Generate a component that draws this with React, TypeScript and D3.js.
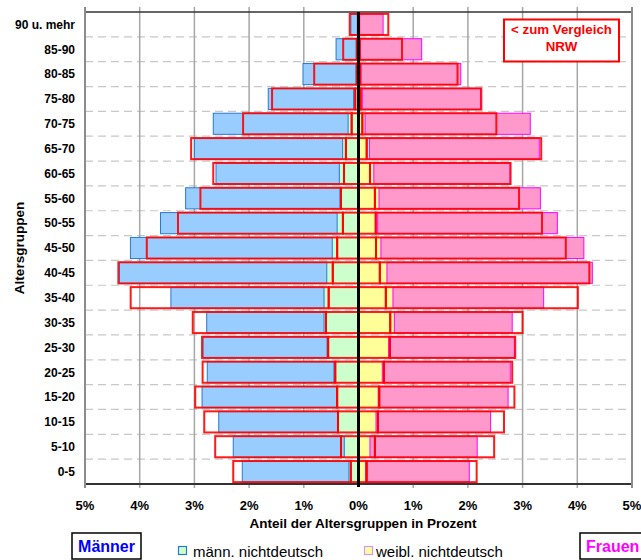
import React from "react";
import * as d3 from "d3";

// Age groups, bottom to top
const categories = ["0-5","5-10","10-15","15-20","20-25","25-30","30-35","35-40","40-45","45-50","50-55","55-60","60-65","65-70","70-75","75-80","80-85","85-90","90 u. mehr"];

// Local (percent)
const maleNonGerman   = [0.175,0.26,0.38,0.40,0.45,0.575,0.63,0.63,0.58,0.48,0.39,0.34,0.35,0.29,0.19,0.09,0.045,0.04,0.02];
const maleGerman      = [1.95,2.03,2.175,2.46,2.315,2.265,2.145,2.80,3.79,3.69,3.23,2.82,2.255,2.71,2.465,1.56,0.97,0.37,0.12];
const femaleNonGerman = [0.13,0.21,0.32,0.36,0.435,0.55,0.655,0.63,0.52,0.41,0.35,0.375,0.28,0.20,0.12,0.07,0.045,0.03,0.02];
const femaleGerman    = [1.895,1.96,2.095,2.375,2.34,2.30,2.155,2.755,3.755,3.71,3.285,2.95,2.49,3.105,3.02,2.16,1.825,1.125,0.43];

// NRW comparison (percent)
const nrwMaleNonGerman   = [0.14,0.32,0.375,0.39,0.425,0.555,0.595,0.545,0.47,0.39,0.285,0.32,0.265,0.23,0.125,0.06,0.03,0.03,0.01];
const nrwMaleGerman      = [2.15,2.30,2.445,2.595,2.425,2.305,2.435,3.62,3.92,3.48,3.015,2.57,2.39,2.83,1.985,1.52,0.78,0.25,0.15];
const nrwFemaleNonGerman = [0.15,0.30,0.355,0.38,0.465,0.575,0.58,0.50,0.39,0.32,0.315,0.30,0.21,0.15,0.07,0.04,0.03,0.02,0.01];
const nrwFemaleGerman    = [2.01,2.18,2.305,2.47,2.345,2.29,2.42,3.51,3.83,3.47,3.04,2.635,2.57,3.19,2.45,2.205,1.78,0.775,0.535];

const xTicks = [-5,-4,-3,-2,-1,0,1,2,3,4,5];

const FONT = "'Liberation Sans', Arial, Helvetica, sans-serif";

export default function App() {
  const W = 641, H = 560;
  const left = 85, right = 632, top = 12, bottom = 484;
  const x = d3.scaleLinear().domain([-5, 5]).range([left, right]);
  const topDown = categories.slice().reverse();
  const y = d3.scaleBand<string>().domain(topDown).range([top, bottom]).paddingInner(0.15).paddingOuter(0.075);
  const step = (bottom - top) / categories.length;
  const bw = y.bandwidth();
  const x0 = x(0);

  const rows = categories.map((c, i) => ({
    c,
    mn: maleNonGerman[i], md: maleGerman[i],
    fn: femaleNonGerman[i], fd: femaleGerman[i],
    nmn: nrwMaleNonGerman[i], nmd: nrwMaleGerman[i],
    nfn: nrwFemaleNonGerman[i], nfd: nrwFemaleGerman[i],
  }));

  const seg = (a: number, b: number) => {
    const xa = x(a), xb = x(b);
    return { x: Math.min(xa, xb), w: Math.abs(xb - xa) };
  };

  return (
    <svg width={W} height={H} style={{ position: "absolute", left: 0, top: 0, background: "#fff" }} fontFamily={FONT}>
      <rect x={0} y={0} width={W} height={H} fill="#fff" />
      {/* horizontal dashed gridlines */}
      {d3.range(1, categories.length).map((k) => (
        <line key={"h" + k} x1={left} x2={right} y1={top + k * step} y2={top + k * step} stroke="#c8c8c8" strokeWidth={1.2} strokeDasharray="8,5" />
      ))}
      {/* vertical gridlines */}
      {xTicks.filter((t) => t !== 0 && Math.abs(t) !== 5).map((t) => (
        <line key={"v" + t} x1={x(t)} x2={x(t)} y1={top - 5} y2={bottom + 4} stroke="#a6a6a6" strokeWidth={1.5} />
      ))}
      {/* filled bars */}
      {rows.map((r) => {
        const yy = y(r.c)!;
        const gN = seg(-r.mn, 0), gD = seg(-(r.mn + r.md), -r.mn);
        const fN = seg(0, r.fn), fD = seg(r.fn, r.fn + r.fd);
        return (
          <g key={"b" + r.c}>
            <rect x={gN.x} y={yy} width={gN.w} height={bw} fill="#ccffcc" />
            <rect x={gD.x} y={yy} width={gD.w} height={bw} fill="#99ccff" stroke="#2a78d2" strokeWidth={1} />
            <rect x={fN.x} y={yy} width={fN.w} height={bw} fill="#ffff99" />
            <rect x={fD.x} y={yy} width={fD.w} height={bw} fill="#ff99cc" stroke="#ff00ff" strokeWidth={1} />
          </g>
        );
      })}
      {/* NRW outlines */}
      {rows.map((r) => {
        const yy = y(r.c)!;
        const gN = seg(-r.nmn, 0), gD = seg(-(r.nmn + r.nmd), -r.nmn);
        const fN = seg(0, r.nfn), fD = seg(r.nfn, r.nfn + r.nfd);
        return (
          <g key={"n" + r.c} fill="none" stroke="#ff0000" strokeWidth={2} strokeOpacity={0.9}>
            <rect x={gN.x} y={yy} width={gN.w} height={bw} />
            <rect x={gD.x} y={yy} width={gD.w} height={bw} />
            <rect x={fN.x} y={yy} width={fN.w} height={bw} />
            <rect x={fD.x} y={yy} width={fD.w} height={bw} />
          </g>
        );
      })}
      {/* frame */}
      <line x1={left} x2={right} y1={top} y2={top} stroke="#333" strokeWidth={1.5} />
      <line x1={left} x2={right} y1={bottom} y2={bottom} stroke="#333" strokeWidth={2} />
      <line x1={left} x2={left} y1={top - 5} y2={bottom + 4} stroke="#8c8c8c" strokeWidth={2} />
      <line x1={right} x2={right} y1={top - 5} y2={bottom + 4} stroke="#8c8c8c" strokeWidth={2} />
      <line x1={x0} x2={x0} y1={top} y2={bottom + 3} stroke="#000" strokeWidth={3} />
      {/* x tick labels */}
      {xTicks.map((t) => (
        <text key={"t" + t} x={x(t)} y={509.5} textAnchor="middle" fontSize={13} fontWeight="bold" fill="#000">
          {Math.abs(t) + "%"}
        </text>
      ))}
      {/* category labels */}
      {categories.map((c) => (
        <text key={"c" + c} x={75} y={y(c)! + bw / 2 + 4.3} textAnchor="end" fontSize={12} fontWeight="bold" fill="#000">
          {c}
        </text>
      ))}
      <text x={363} y={528} textAnchor="middle" fontSize={13.5} fontWeight="bold">Anteil der Altersgruppen in Prozent</text>
      <text transform="translate(24,248) rotate(-90)" textAnchor="middle" fontSize={13.5} fontWeight="bold">Altersgruppen</text>
      {/* NRW note */}
      <rect x={504} y={19.5} width={115} height={42} fill="#fff" stroke="#ff0000" strokeWidth={2} />
      <text x={561.5} y={33.5} textAnchor="middle" fontSize={13.3} fontWeight="bold" fill="#ff0000">&lt; zum Vergleich</text>
      <text x={561.5} y={51} textAnchor="middle" fontSize={13.3} fontWeight="bold" fill="#ff0000">NRW</text>
      {/* legend */}
      <rect x={178.5} y={546.5} width={8} height={8} fill="#ccffcc" stroke="#2a78d2" strokeWidth={1.2} />
      <text x={193} y={557} fontSize={15} fill="#000">männ. nichtdeutsch</text>
      <rect x={364.5} y={546.5} width={8} height={8} fill="#ffff99" stroke="#cc99ff" strokeWidth={1.2} />
      <text x={376} y={557} fontSize={15} fill="#000">weibl. nichtdeutsch</text>
      {/* Männer / Frauen boxes */}
      <rect x={72} y={533} width={69} height={26} fill="#fff" stroke="#000" strokeWidth={1.5} />
      <text x={106.5} y={551.5} textAnchor="middle" fontSize={16} fontWeight="bold" fill="#0000ff">Männer</text>
      <rect x={580} y={533} width={70} height={26} fill="#fff" stroke="#000" strokeWidth={1.5} />
      <text x={586} y={551.5} fontSize={16} fontWeight="bold" fill="#ff00ff">Frauen</text>
    </svg>
  );
}
